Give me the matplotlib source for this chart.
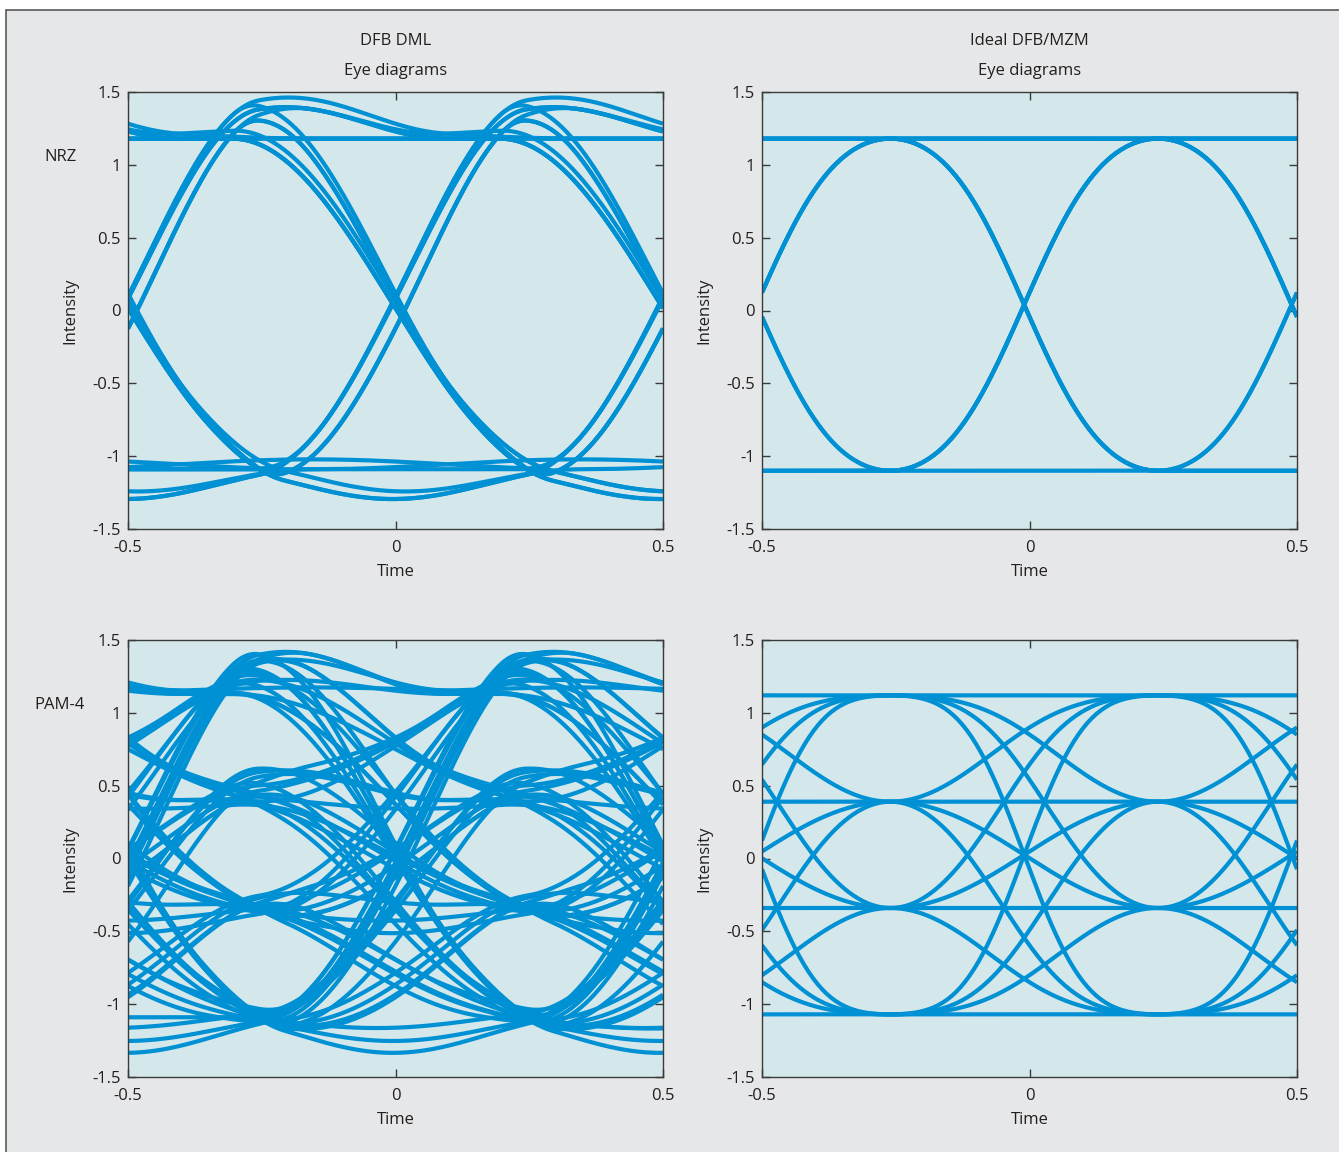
import numpy as np
import matplotlib.pyplot as plt
from matplotlib.patches import Rectangle

nrz_levels_dml = [-1.09, 1.18]
nrz_levels_mzm = [-1.10, 1.18]
pam4_levels_dml = [-1.09, -0.35, 0.39, 1.13]
pam4_levels_mzm = [-1.07, -0.34, 0.39, 1.12]

# symbol streams (index into the level lists above)
nrz_bits_dml = [0, 0, 0, 1, 1, 1, 0, 0, 1, 0, 1, 1, 0, 1, 0, 0, 0, 0, 1, 1,
                0, 0, 1, 1, 1, 1, 0, 1, 0, 0]
nrz_bits_mzm = [0, 0, 1, 1, 0, 1, 0, 0, 1, 1, 1, 0, 0]
pam4_syms_dml = [0, 0, 3, 3, 1, 2, 0, 3, 2, 2, 1, 0, 1, 3, 0, 2, 3, 1, 1, 3,
                 3, 0, 0, 2, 1, 2, 3, 2, 0, 1, 1, 0, 3, 1, 0, 0, 2, 2, 3, 3,
                 2, 1, 3, 0, 1, 2, 0, 0, 3, 0, 3, 2, 1, 1, 2, 3, 0, 1, 0, 2,
                 2, 0, 3, 3, 3, 1, 2, 1, 0, 0]
pam4_syms_mzm = [0, 0, 1, 0, 2, 0, 3, 1, 1, 2, 1, 3, 2, 2, 3, 3, 0, 0, 1]

row_names = ['NRZ', 'PAM-4']
col_titles = ['DFB DML', 'Ideal DFB/MZM']
yticks = [-1.5, -1, -0.5, 0, 0.5, 1, 1.5]
ytick_labels = ['-1.5', '-1', '-0.5', '0', '0.5', '1', '1.5']
xticks = [-0.5, 0, 0.5]
xtick_labels = ['-0.5', '0', '0.5']

T = 0.5      # symbol period, two symbols per trace
SPS = 120    # samples per symbol
BLUE = '#0090d4'
INK = '#231f20'

plt.rcParams['font.family'] = ['Open Sans', 'DejaVu Sans']


def edge(tau, w):
    # raised cosine edge of width w centred on the transition
    x = np.clip(tau / w + 0.5, 0, 1)
    return (1 - np.cos(np.pi * x)) / 2


def bump(tau, start, width):
    x = np.clip((tau - start) / width, 0, 1)
    return np.sin(np.pi * x) ** 2


def waveform(values, step, skew):
    g = np.arange(len(values) * SPS + 1) * T / SPS
    y = np.full(g.shape, float(values[0]))
    for k in range(1, len(values)):
        d = values[k] - values[k - 1]
        if d != 0:
            y += d * step(g - k * T - skew, d)
    return y


def dml_wave(levels, syms, over, under):
    # laser: fast rise with relaxation overshoot, slower fall with undershoot
    def step(tau, d):
        if d > 0:
            return edge(tau, 0.5) + over * bump(tau, 0.0, 0.6)
        return edge(tau, 0.6) + under * bump(tau, 0.15, 0.7) - 0.03 * bump(tau, 0.85, 1.0)
    return waveform(np.array(levels)[syms], step, -0.005)


def mzm_wave(levels, syms, depth):
    # cosine shaped drive through the sinusoidal MZM transfer curve
    lv = np.array(levels)
    mid = (lv.max() + lv.min()) / 2
    half = (lv.max() - lv.min()) / 2
    k = depth * np.pi / 2
    drive = np.arcsin((lv - mid) / half * np.sin(k)) / k
    v = waveform(drive[syms], lambda tau, d: edge(tau, T), -0.01)
    return mid + half * np.sin(k * v) / np.sin(k)


def fold(y):
    n = (len(y) - 1) // SPS
    t = np.arange(2 * SPS + 1) / SPS * T - T
    return [(t, y[j * SPS:(j + 2) * SPS + 1]) for j in range(1, n - 2)]


panels = [
    [fold(dml_wave(nrz_levels_dml, nrz_bits_dml, 0.095, 0.09)),
     fold(mzm_wave(nrz_levels_mzm, nrz_bits_mzm, 0.6))],
    [fold(dml_wave(pam4_levels_dml, pam4_syms_dml, 0.13, 0.11)),
     fold(mzm_wave(pam4_levels_mzm, pam4_syms_mzm, 0.9))],
]

W, H = 1339, 1152
fig = plt.figure(figsize=(W / 100, H / 100), dpi=100)
fig.patch.set_facecolor('white')
fig.add_artist(Rectangle((6 / W, -0.02), 1.0, 1 - 10 / H + 0.02, transform=fig.transFigure,
                         facecolor='#e6e7e8', edgecolor='#58595b', lw=1.2, zorder=-10))

lefts = [128 / W, 762 / W]
bottoms = [1 - 529 / H, 1 - 1077 / H]
aw, ah = 535 / W, 437 / H

for r in range(2):
    for c in range(2):
        ax = fig.add_axes([lefts[c], bottoms[r], aw, ah])
        ax.set_facecolor('#d4e8eb')
        for t, y in panels[r][c]:
            ax.plot(t, y, color=BLUE, lw=3.0, solid_capstyle='butt')
        ax.set_xlim(-0.5, 0.5)
        ax.set_ylim(-1.5, 1.5)
        ax.set_xticks(xticks, xtick_labels)
        ax.set_yticks(yticks, ytick_labels)
        ax.tick_params(direction='in', top=True, right=True, length=6, width=1,
                       color='#3a3a3a', labelsize=12, labelcolor=INK)
        ax.tick_params(axis='x', pad=8)
        ax.tick_params(axis='y', pad=5)
        for s in ax.spines.values():
            s.set_color('#3a3a3a')
            s.set_linewidth(1.0)
        ax.set_xlabel('Time', fontsize=12, color=INK, labelpad=6)
        ax.set_ylabel('Intensity', fontsize=12, color=INK, labelpad=10)
        if r == 0:
            ax.text(0.5, 1.039, 'Eye diagrams', transform=ax.transAxes,
                    ha='center', va='baseline', fontsize=12, color=INK)
            ax.text(0.5, 1.1075, col_titles[c], transform=ax.transAxes,
                    ha='center', va='baseline', fontsize=12, color=INK)

fig.text(60 / W, 1 - 161 / H, row_names[0], ha='center', va='baseline', fontsize=12, color=INK)
fig.text(60 / W, 1 - 709 / H, row_names[1], ha='center', va='baseline', fontsize=12, color=INK)

fig.savefig('out.png', dpi=100, facecolor=fig.get_facecolor())
